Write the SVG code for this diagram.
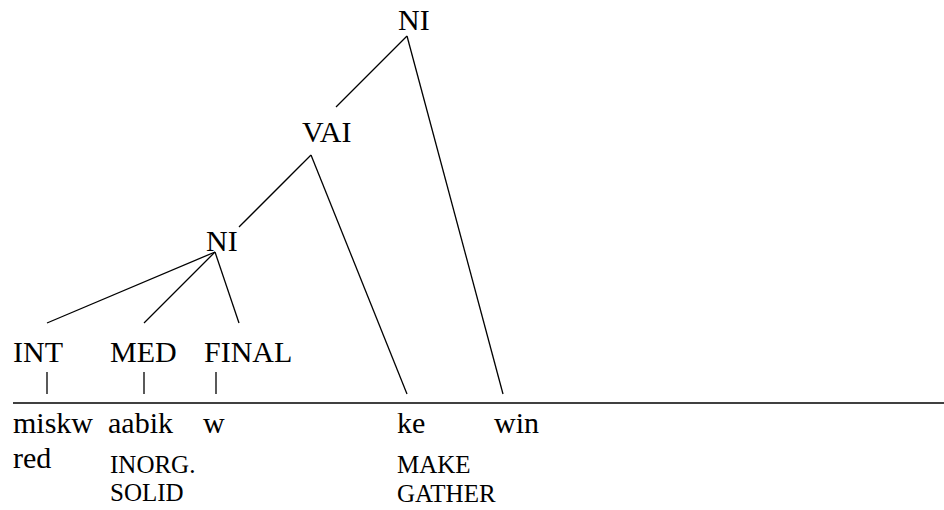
<svg xmlns="http://www.w3.org/2000/svg" width="944" height="510" viewBox="0 0 944 510">
<rect width="944" height="510" fill="#fff"/>
<g id="connectors" stroke="#000" stroke-width="1.3">
<line x1="407" y1="36" x2="336" y2="107"/>
<line x1="407" y1="36" x2="503" y2="394"/>
<line x1="311" y1="155" x2="239" y2="227"/>
<line x1="311" y1="155" x2="407" y2="394"/>
<line x1="215" y1="252" x2="47" y2="323"/>
<line x1="215" y1="252" x2="144" y2="323"/>
<line x1="215" y1="252" x2="239" y2="323"/>
<line x1="47" y1="372" x2="47" y2="394"/>
<line x1="144" y1="372" x2="144" y2="394"/>
<line x1="216" y1="372" x2="216" y2="394"/>
<line x1="13" y1="403" x2="944" y2="403" stroke-width="1.6"/>
</g>
<g id="ni-top"><text font-family="Liberation Serif" font-size="30" x="398" y="30">NI</text></g>
<g id="vai"><text font-family="Liberation Serif" font-size="30" x="302" y="142">VAI</text></g>
<g id="ni-mid"><text font-family="Liberation Serif" font-size="30" x="206" y="251">NI</text></g>
<g id="int"><text font-family="Liberation Serif" font-size="30" x="13" y="362">INT</text></g>
<g id="med"><text font-family="Liberation Serif" font-size="30" x="110" y="362">MED</text></g>
<g id="final"><text font-family="Liberation Serif" font-size="30" x="204" y="362">FINAL</text></g>
<g id="miskw"><text font-family="Liberation Serif" font-size="30" x="13" y="433">miskw</text><text font-family="Liberation Serif" font-size="30" x="13" y="468">red</text></g>
<g id="aabik"><text font-family="Liberation Serif" font-size="30" x="108" y="433">aabik</text><text font-family="Liberation Serif" font-size="25" x="110" y="473">INORG.</text><text font-family="Liberation Serif" font-size="25" x="110" y="501">SOLID</text></g>
<g id="w"><text font-family="Liberation Serif" font-size="30" x="203" y="433">w</text></g>
<g id="ke"><text font-family="Liberation Serif" font-size="30" x="397" y="433">ke</text><text font-family="Liberation Serif" font-size="25" x="397" y="473">MAKE</text><text font-family="Liberation Serif" font-size="25" x="397" y="502">GATHER</text></g>
<g id="win"><text font-family="Liberation Serif" font-size="30" x="494" y="433">win</text></g>
</svg>
